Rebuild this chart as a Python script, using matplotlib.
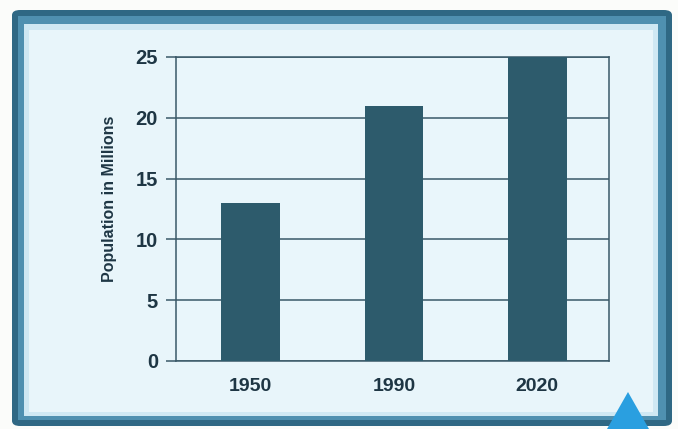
import matplotlib
matplotlib.use("Agg")
import matplotlib.pyplot as plt
from matplotlib.patches import FancyBboxPatch, Polygon, Rectangle

categories = ["1950", "1990", "2020"]
population = [13, 21, 25]
yticks = [0, 5, 10, 15, 20, 25]

plt.rcParams['font.family'] = ['Liberation Sans', 'DejaVu Sans']

W, H = 678, 429
fig = plt.figure(figsize=(W / 100, H / 100), dpi=100)
fig.patch.set_facecolor("#fbfcfa")

def fx(px):
    return px / W

def fy(py):
    return 1 - py / H

# outer frame
fig.patches.append(FancyBboxPatch((fx(12), fy(426)), fx(660), (426 - 10) / H,
                                  boxstyle="round,pad=0,rounding_size=0.012",
                                  transform=fig.transFigure, facecolor="#2f6884",
                                  edgecolor="none", zorder=-3))
fig.patches.append(Rectangle((fx(18), fy(420)), fx(648), (420 - 16) / H,
                             transform=fig.transFigure, facecolor="#4f90b0",
                             edgecolor="none", zorder=-3))
fig.patches.append(Rectangle((fx(24), fy(416)), fx(634), (416 - 24) / H,
                             transform=fig.transFigure, facecolor="#cfe8f3",
                             edgecolor="none", zorder=-3))
fig.patches.append(Rectangle((fx(29), fy(412)), fx(624), (412 - 30) / H,
                             transform=fig.transFigure, facecolor="#e8f5fa",
                             edgecolor="none", zorder=-3))
# triangle marker
fig.patches.append(Polygon([(fx(607), fy(429)), (fx(628), fy(392)), (fx(649), fy(429))],
                           closed=True, transform=fig.transFigure,
                           facecolor="#2a9fe0", edgecolor="none", zorder=5))

ax = fig.add_axes([176 / W, 1 - 361 / H, (609 - 176) / W, (361 - 57) / H])
ax.set_zorder(1)
ax.set_facecolor("#e9f6fb")
ax.bar(range(len(categories)), population, width=0.41, color="#2d5b6c", zorder=3)
ax.set_xlim(-0.52, 2.5)
ax.set_ylim(0, 25)
ax.set_yticks(yticks)
ax.set_yticklabels([str(t) for t in yticks], fontsize=14.5, fontweight="bold", color="#1e3644")
ax.set_xticks(range(len(categories)))
ax.set_xticklabels(categories, fontsize=14, fontweight="bold", color="#1e3644")
ax.tick_params(axis="x", length=0, pad=12)
ax.tick_params(axis="y", length=7, width=1.1, color="#3a5968", pad=6, direction="out")
ax.grid(axis="y", color="#3a5968", linewidth=1.1, zorder=1)
for s in ax.spines.values():
    s.set_color("#3a5968")
    s.set_linewidth(1.1)
ax.set_ylabel("Population in Millions", fontsize=11.5, fontweight="bold",
              color="#1e3644")
ax.yaxis.set_label_coords(-0.136, 0.533)

fig.savefig("out.png", dpi=100, facecolor=fig.get_facecolor())
